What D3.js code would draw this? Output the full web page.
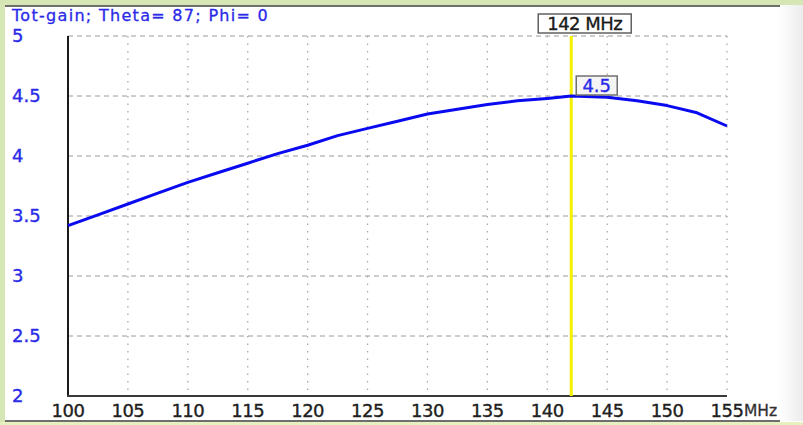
<!DOCTYPE html>
<html>
<head>
<meta charset="utf-8">
<script src="https://cdn.jsdelivr.net/npm/d3@7"></script>
<style>
  html, body { margin: 0; padding: 0; background: #ffffff; }
  svg { display: block; }
  text { font-family: "DejaVu Sans", Verdana, sans-serif; }
</style>
</head>
<body>
<svg id="chart" width="803" height="425"></svg>
<script>
// Total gain versus frequency
const freqMHz = [100, 102.5, 105, 107.5, 110, 112.5, 115, 117.5, 120, 122.5, 125, 127.5,
                 130, 132.5, 135, 137.5, 140, 142, 145, 147.5, 150, 152.5, 155];
const gain    = [3.42, 3.51, 3.60, 3.69, 3.78, 3.86, 3.94, 4.02, 4.09, 4.17, 4.23, 4.29,
                 4.35, 4.39, 4.43, 4.46, 4.48, 4.50, 4.49, 4.46, 4.42, 4.36, 4.25];
const xTicks = [100, 105, 110, 115, 120, 125, 130, 135, 140, 145, 150, 155];
const yTicks = [2, 2.5, 3, 3.5, 4, 4.5, 5];
const titleText = "Tot-gain; Theta= 87; Phi= 0";
const markerFreq = 142;
const markerGain = 4.5;
const xUnit = "MHz";

const svg = d3.select("#chart");
const W = 803, H = 425;

// window frame
svg.append("rect").attr("x", 0).attr("y", 0).attr("width", W).attr("height", H).attr("fill", "#ffffff");
svg.append("rect").attr("x", 0).attr("y", 0).attr("width", W).attr("height", 5).attr("fill", "#d6e6b4");
svg.append("rect").attr("x", 0).attr("y", 0).attr("width", 5).attr("height", H).attr("fill", "#d6e6b4");
svg.append("rect").attr("x", 0).attr("y", 422).attr("width", W).attr("height", 3).attr("fill", "#e8f0c0");
const fade = svg.append("defs").append("linearGradient").attr("id", "fade");
fade.append("stop").attr("offset", "0%").attr("stop-color", "#ffffff");
fade.append("stop").attr("offset", "100%").attr("stop-color", "#ececec");
svg.append("rect").attr("x", 778).attr("y", 5).attr("width", 25).attr("height", 416).attr("fill", "url(#fade)");
svg.append("rect").attr("x", 5).attr("y", 5).attr("width", 775).attr("height", 2).attr("fill", "#6e6e6e");
svg.append("rect").attr("x", 5).attr("y", 420).attr("width", 775).attr("height", 2).attr("fill", "#6e6e6e");

const plot = { left: 68, right: 727, top: 36, bottom: 396 };

const x = d3.scaleLinear().domain([100, 155]).range([plot.left, plot.right]);
const y = d3.scaleLinear().domain([2, 5]).range([plot.bottom, plot.top]);

// grid: dashed horizontals, dotted verticals
svg.append("g")
  .selectAll("line")
  .data(yTicks.filter(v => v > 2))
  .join("line")
  .attr("x1", plot.left).attr("x2", plot.right)
  .attr("y1", d => y(d)).attr("y2", d => y(d))
  .attr("stroke", "#9a9a9a").attr("stroke-width", 1)
  .attr("stroke-dasharray", "5,4");

svg.append("g")
  .selectAll("line")
  .data(xTicks.filter(v => v > 100))
  .join("line")
  .attr("x1", d => x(d)).attr("x2", d => x(d))
  .attr("y1", plot.top).attr("y2", plot.bottom)
  .attr("stroke", "#a8a8a8").attr("stroke-width", 1.3)
  .attr("stroke-dasharray", "1.5,6");

// axes lines
svg.append("line").attr("x1", plot.left).attr("x2", plot.left)
  .attr("y1", plot.top).attr("y2", plot.bottom + 1)
  .attr("stroke", "#1a1a1a").attr("stroke-width", 2);
svg.append("line").attr("x1", plot.left - 1).attr("x2", plot.right)
  .attr("y1", plot.bottom).attr("y2", plot.bottom)
  .attr("stroke", "#3a3a3a").attr("stroke-width", 2);

// y tick labels (left aligned, blue)
svg.append("g")
  .selectAll("text")
  .data(yTicks)
  .join("text")
  .attr("x", 12)
  .attr("y", d => y(d) + 6)
  .attr("fill", "#2a2ae8").attr("stroke", "#2a2ae8").attr("stroke-width", 0.35)
  .attr("font-size", 18)
  .text(d => d);

// x tick labels
svg.append("g")
  .selectAll("text")
  .data(xTicks)
  .join("text")
  .attr("x", d => x(d))
  .attr("y", 417)
  .attr("text-anchor", "middle")
  .attr("fill", "#202020").attr("stroke", "#202020").attr("stroke-width", 0.35)
  .attr("font-size", 18)
  .attr("letter-spacing", -0.5)
  .text(d => d);
svg.append("text")
  .attr("x", 744).attr("y", 416)
  .attr("fill", "#303030").attr("stroke", "#303030").attr("stroke-width", 0.3)
  .attr("font-size", 15.5)
  .text(xUnit);

// title
svg.append("text")
  .attr("x", 12).attr("y", 21)
  .attr("fill", "#2a2ae8").attr("stroke", "#2a2ae8").attr("stroke-width", 0.3)
  .attr("font-size", 16)
  .attr("letter-spacing", 1.3)
  .text(titleText);

// marker line
svg.append("line")
  .attr("x1", x(markerFreq)).attr("x2", x(markerFreq))
  .attr("y1", plot.top).attr("y2", plot.bottom)
  .attr("stroke", "#f4f000").attr("stroke-width", 3);

// gain curve
const line = d3.line().x((d, i) => x(freqMHz[i])).y(d => y(d));
svg.append("path")
  .datum(gain)
  .attr("d", line)
  .attr("fill", "none")
  .attr("stroke", "#0a0af0")
  .attr("stroke-width", 3)
  .attr("stroke-linejoin", "round");

// marker frequency label
const fLabel = svg.append("g").attr("transform", `translate(${x(markerFreq) - 33},14)`);
fLabel.append("rect").attr("width", 93).attr("height", 19)
  .attr("fill", "#ffffff").attr("stroke", "#606060").attr("stroke-width", 1.5);
fLabel.append("text").attr("x", 46.5).attr("y", 16).attr("text-anchor", "middle")
  .attr("fill", "#1a1a1a").attr("stroke", "#1a1a1a").attr("stroke-width", 0.35)
  .attr("font-size", 18).attr("letter-spacing", -0.5)
  .text(`${markerFreq} ${xUnit}`);

// marker value label
const vLabel = svg.append("g").attr("transform", `translate(${x(markerFreq) + 5},${y(markerGain) - 20})`);
vLabel.append("rect").attr("width", 41).attr("height", 19)
  .attr("fill", "#f4f4f4").attr("stroke", "#707070").attr("stroke-width", 1.5);
vLabel.append("text").attr("x", 20.5).attr("y", 16).attr("text-anchor", "middle")
  .attr("fill", "#2a2ae8").attr("stroke", "#2a2ae8").attr("stroke-width", 0.35)
  .attr("font-size", 18)
  .text(markerGain);
</script>
</body>
</html>
